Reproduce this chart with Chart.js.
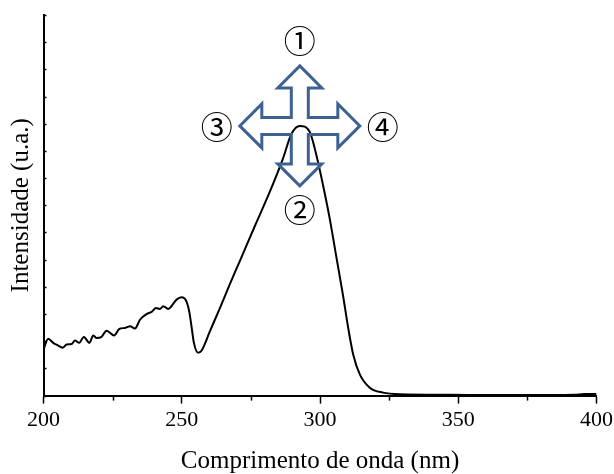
<!DOCTYPE html>
<html>
<head>
<meta charset="utf-8">
<script src="https://cdn.jsdelivr.net/npm/chart.js@4/dist/chart.umd.min.js"></script>
<style>
  html, body { margin: 0; padding: 0; background: #fff; }
  #wrap { width: 614px; height: 474px; }
</style>
</head>
<body>
<div id="wrap"><canvas id="chart"></canvas></div>
<script>
// wavelength (nm) and intensity (a.u.)
const wavelength = [200.0, 201.7, 203.5, 205.3, 206.9, 208.4, 210.2, 211.4, 212.9, 214.6,
  216.6, 218.0, 219.2, 221.0, 222.8, 225.5, 227.4, 229.5, 231.3, 233.1,
  234.9, 237.3, 239.1, 240.7, 242.1, 243.3, 245.1, 248.1, 249.9, 251.4,
  252.7, 253.6, 254.4, 255.9, 257.2, 260.2, 263.8, 267.4, 271.0, 276.4,
  281.9, 286.6, 289.7, 292.7, 296.3, 298.7, 301.1, 303.5, 306.0, 308.3,
  310.2, 312.0, 314.4, 318.0, 322.8, 328.8, 346.9, 365.0, 383.0, 392.0,
  395.7, 400.0];
const intensity = [1.70, 2.09, 1.94, 1.84, 1.76, 1.88, 1.90, 2.03, 1.94, 2.16,
  1.94, 2.21, 2.12, 2.16, 2.39, 2.21, 2.45, 2.49, 2.55, 2.47,
  2.79, 3.00, 3.08, 3.22, 3.19, 3.29, 3.19, 3.53, 3.62, 3.53,
  3.10, 2.49, 1.94, 1.58, 1.66, 2.37, 3.22, 4.10, 4.95, 6.23,
  7.51, 8.72, 9.63, 9.92, 9.70, 8.84, 7.74, 6.52, 5.05, 3.70,
  2.49, 1.51, 0.78, 0.29, 0.11, 0.05, 0.03, 0.02, 0.02, 0.03,
  0.06, 0.06];
const xMinorTicks = [225, 275, 325, 375];
const markerLabels = ['①', '②', '③', '④'];
const arrowAnchor = { x: 292.7, y: 9.92 };

const serif = 'Liberation Serif, Times New Roman, serif';

const decorations = {
  id: 'decorations',
  afterDraw(chart) {
    const ctx = chart.ctx;
    const xs = chart.scales.x, ys = chart.scales.y;
    const area = chart.chartArea;
    ctx.save();
    ctx.strokeStyle = '#000';
    ctx.lineWidth = 1.5;
    // minor ticks under the x axis
    xMinorTicks.forEach(v => {
      const px = Math.round(xs.getPixelForValue(v)) + 0.5;
      ctx.beginPath();
      ctx.moveTo(px, area.bottom);
      ctx.lineTo(px, area.bottom + 5);
      ctx.stroke();
    });
    // inward ticks on the y axis
    ys.ticks.forEach(t => {
      const py = Math.round(ys.getPixelForValue(t.value)) + 0.5;
      ctx.beginPath();
      ctx.moveTo(area.left, py);
      ctx.lineTo(area.left + 3, py);
      ctx.stroke();
    });

    // four-way arrow around the peak
    const cx = xs.getPixelForValue(arrowAnchor.x);
    const cy = ys.getPixelForValue(arrowAnchor.y);
    const T = 60, L = 22, h = 22, w = 8.5, b = T - L;
    const pts = [[0, -T], [h, -b], [w, -b], [w, -w], [b, -w], [b, -h], [T, 0], [b, h], [b, w], [w, w],
      [w, b], [h, b], [0, T], [-h, b], [-w, b], [-w, w], [-b, w], [-b, h], [-T, 0], [-b, -h],
      [-b, -w], [-w, -w], [-w, -b], [-h, -b]];
    ctx.beginPath();
    pts.forEach((p, i) => i ? ctx.lineTo(cx + p[0], cy + p[1]) : ctx.moveTo(cx + p[0], cy + p[1]));
    ctx.closePath();
    ctx.strokeStyle = '#3d6292';
    ctx.lineWidth = 3;
    ctx.lineJoin = 'miter';
    ctx.stroke();

    // circled numbers
    ctx.fillStyle = '#000';
    ctx.font = '32px "Noto Sans CJK JP"';
    ctx.textAlign = 'center';
    ctx.textBaseline = 'middle';
    const offs = [[0, -85], [0, 84], [-83, 1], [83, 1]];
    markerLabels.forEach((s, i) => ctx.fillText(s, cx + offs[i][0], cy + offs[i][1]));
    ctx.restore();
  }
};

new Chart(document.getElementById('chart'), {
  type: 'line',
  data: {
    datasets: [{
      data: wavelength.map((x, i) => ({x: x, y: intensity[i]})),
      borderColor: '#000',
      borderWidth: 2,
      pointRadius: 0,
      cubicInterpolationMode: 'monotone',
      fill: false
    }]
  },
  options: {
    responsive: true,
    maintainAspectRatio: false,
    animation: false,
    events: [],
    layout: {padding: {left: 5, right: 17.5, top: 15, bottom: 0}},
    plugins: {legend: {display: false}, tooltip: {enabled: false}},
    scales: {
      x: {
        type: 'linear',
        min: 200,
        max: 400,
        afterFit(scale) { scale.paddingLeft = 0; scale.paddingRight = 0; },
        ticks: {stepSize: 50, color: '#000', font: {family: serif, size: 22}, padding: 3, maxRotation: 0},
        grid: {drawOnChartArea: false, drawTicks: true, tickLength: 8, tickWidth: 1.5, color: '#000'},
        border: {color: '#000', width: 2},
        title: {display: true, text: 'Comprimento de onda (nm)', color: '#000',
          font: {family: serif, size: 25, lineHeight: 1}, padding: {top: 13, bottom: 0}}
      },
      y: {
        min: 0,
        max: 14,
        ticks: {display: false, stepSize: 1},
        grid: {display: false},
        border: {color: '#000', width: 2},
        title: {display: true, text: 'Intensidade (u.a.)', color: '#000',
          font: {family: serif, size: 25, lineHeight: 1}, padding: {top: 4, bottom: 1.5}}
      }
    }
  },
  plugins: [decorations]
});
</script>
</body>
</html>
